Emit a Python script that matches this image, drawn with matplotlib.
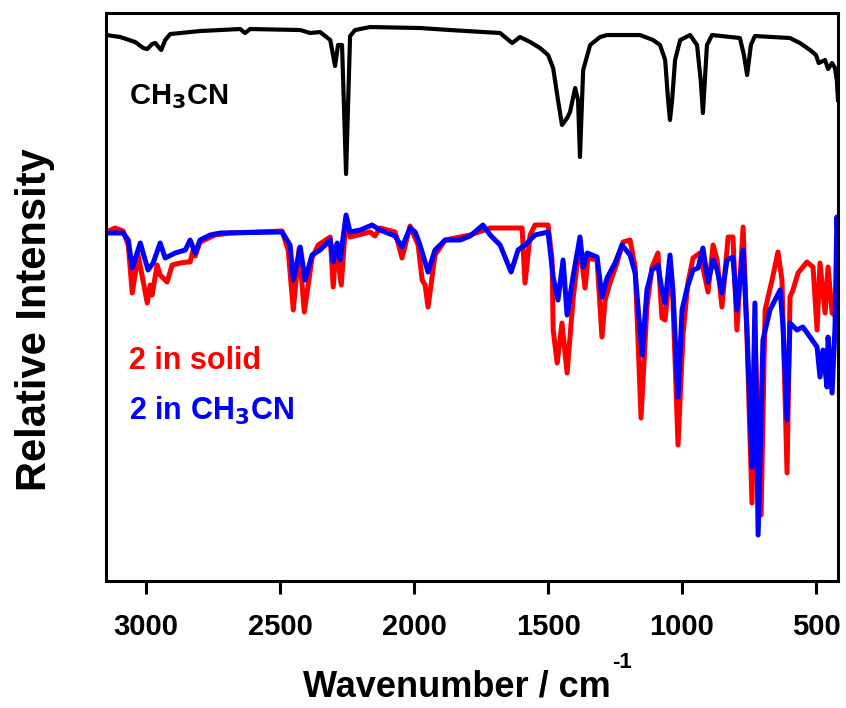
import numpy as np
import matplotlib
matplotlib.use("Agg")
import matplotlib.pyplot as plt

plt.rcParams['font.family'] = ['Liberation Sans', 'DejaVu Sans']
plt.rcParams['font.weight'] = 'bold'

# IR spectra, wavenumber (cm-1) vs relative intensity (arbitrary units)
ch3cn_wn = [3149, 3097, 3041, 3011, 2996, 2978, 2966, 2951, 2944, 2929, 2910, 2799,
            2649, 2631, 2612, 2425, 2388, 2351, 2313, 2295, 2284, 2269, 2254, 2239,
            2220, 2164, 1978, 1866, 1679, 1634, 1605, 1567, 1530, 1500, 1481, 1463,
            1448, 1429, 1418, 1399, 1388, 1381, 1369, 1343, 1306, 1280, 1157, 1108,
            1082, 1063, 1052, 1045, 1037, 1026, 1007, 970, 944, 930, 922, 915, 907,
            888, 784, 769, 757, 743, 728, 597, 560, 522, 500, 490, 466, 455, 440,
            429, 422, 418]
ch3cn_int = [546, 544, 539, 533, 532, 537, 538, 533, 531, 541, 547, 550,
             552, 548, 552, 551, 548, 549, 541, 515, 536, 536, 407, 545,
             551, 554, 553, 551, 548, 538, 544, 539, 533, 526, 513, 481,
             456, 463, 469, 493, 481, 424, 511, 536, 544, 546, 546, 541,
             536, 521, 481, 461, 481, 521, 541, 546, 536, 500, 468, 500, 536,
             546, 543, 526, 506, 536, 545, 543, 538, 531, 526, 518, 521, 512, 518,
             513, 500, 481]

solid_wn = [3149, 3116, 3086, 3067, 3052, 3030, 2996, 2985, 2978, 2959, 2948, 2922,
            2903, 2873, 2847, 2836, 2825, 2817, 2799, 2743, 2687, 2493, 2470, 2451,
            2429, 2410, 2381, 2358, 2313, 2302, 2291, 2272, 2254, 2239, 2164, 2146,
            2127, 2071, 2045, 2015, 1985, 1970, 1959, 1948, 1922, 1884, 1791, 1716,
            1597, 1586, 1567, 1549, 1500, 1485, 1481, 1466, 1448, 1429, 1407, 1392,
            1381, 1362, 1351, 1317, 1299, 1287, 1269, 1243, 1220, 1194, 1175, 1153,
            1131, 1112, 1090, 1075, 1063, 1045, 1034, 1015, 996, 978, 959, 933,
            903, 884, 869, 851, 828, 810, 795, 772, 757, 739, 728, 705, 690,
            664, 642, 627, 608, 597, 586, 567, 534, 511, 496, 485, 466, 455,
            440, 422, 418]
solid_int = [349, 353, 350, 336, 288, 326, 278, 296, 286, 316, 306, 299,
             316, 318, 319, 319, 331, 325, 339, 346, 348, 350, 331, 271,
             333, 269, 323, 336, 344, 294, 336, 296, 363, 344, 349, 345,
             353, 349, 323, 355, 336, 301, 296, 274, 326, 341, 346, 353,
             353, 298, 346, 356, 356, 321, 251, 218, 258, 208, 281, 316,
             336, 293, 323, 321, 244, 281, 298, 318, 339, 341, 314, 163,
             274, 314, 328, 263, 261, 314, 281, 136, 248, 298, 323, 328,
             289, 336, 321, 274, 344, 344, 251, 354, 238, 78, 248, 66, 271,
             301, 329, 301, 108, 284, 291, 308, 319, 314, 251, 318, 268, 314,
             268, 264, 280]

sol_wn = [3149, 3086, 3067, 3052, 3022, 2993, 2974, 2948, 2929, 2892, 2854, 2836,
          2817, 2799, 2761, 2724, 2493, 2463, 2451, 2425, 2407, 2381, 2351, 2313,
          2302, 2287, 2276, 2254, 2239, 2201, 2157, 2127, 2071, 2045, 2015, 1996,
          1978, 1948, 1922, 1884, 1828, 1791, 1743, 1716, 1679, 1638, 1612, 1586,
          1549, 1500, 1481, 1463, 1444, 1429, 1407, 1381, 1369, 1354, 1317, 1299,
          1280, 1250, 1224, 1194, 1175, 1149, 1131, 1112, 1090, 1075, 1063, 1045,
          1034, 1015, 1000, 981, 959, 940, 922, 903, 884, 869, 851, 832,
          810, 795, 772, 757, 739, 728, 716, 698, 672, 634, 623, 608,
          597, 571, 549, 522, 496, 485, 474, 459, 455, 440, 429, 422, 418]
sol_int = [348, 348, 341, 313, 338, 311, 318, 338, 323, 328, 331, 341,
           328, 341, 346, 348, 349, 336, 301, 334, 301, 326, 331, 341,
           319, 338, 321, 366, 349, 351, 356, 351, 345, 334, 353, 349,
           336, 309, 331, 341, 341, 345, 356, 346, 336, 309, 331, 336,
           346, 349, 304, 281, 321, 266, 304, 344, 314, 328, 324, 284,
           303, 318, 336, 326, 308, 226, 291, 311, 316, 291, 278, 326,
           291, 184, 271, 293, 311, 313, 333, 299, 321, 311, 288, 321,
           324, 271, 331, 248, 114, 278, 46, 241, 271, 291, 254, 161,
           258, 251, 254, 244, 234, 204, 231, 194, 244, 188, 254, 364, 341]

fig = plt.figure(figsize=(8.46, 7.08), dpi=100)
ax = fig.add_axes([0.1253, 0.1794, 0.8652, 0.8022])

ax.plot(ch3cn_wn, ch3cn_int, color='black', lw=3.0, solid_joinstyle='round')
ax.plot(solid_wn, solid_int, color='#ff0000', lw=3.6, solid_joinstyle='round')
ax.plot(sol_wn, sol_int, color='#0000ff', lw=3.6, solid_joinstyle='round')

ax.set_xlim(3150, 418)
ax.set_ylim(0, 568)
ax.set_xticks([3000, 2500, 2000, 1500, 1000, 500])
ax.set_yticks([])
for s in ax.spines.values():
    s.set_linewidth(2.2)
ax.tick_params(axis='x', direction='out', length=9, width=2.2, pad=14)
for lab in ax.get_xticklabels():
    lab.set_fontfamily(['Liberation Sans Narrow', 'Liberation Sans'])
    lab.set_fontsize(21)
    lab.set_fontweight('bold')

# x label with a small raised "-1" like the original
fig.text(0.540, 0.016, 'Wavenumber / cm', ha='center', va='baseline',
         fontsize=26, fontweight='bold')
fig.text(0.724, 0.057, '-1', ha='left', va='baseline', fontsize=16, fontweight='bold')
ax.set_ylabel('Relative Intensity', fontsize=30, fontweight='bold', labelpad=37)
ax.yaxis.label.set_y(0.46)

ax.text(0.031, 0.853, 'CH$_\\mathbf{3}$CN', transform=ax.transAxes, fontsize=21,
        fontweight='bold', color='black', va='center')
ax.text(0.031, 0.388, '2 in solid', transform=ax.transAxes, fontsize=22,
        fontweight='bold', color='#ff0000', va='center')
ax.text(0.031, 0.300, '2 in CH$_\\mathbf{3}$CN', transform=ax.transAxes, fontsize=22,
        fontweight='bold', color='#0000ff', va='center')

fig.savefig('out.png', dpi=100)
